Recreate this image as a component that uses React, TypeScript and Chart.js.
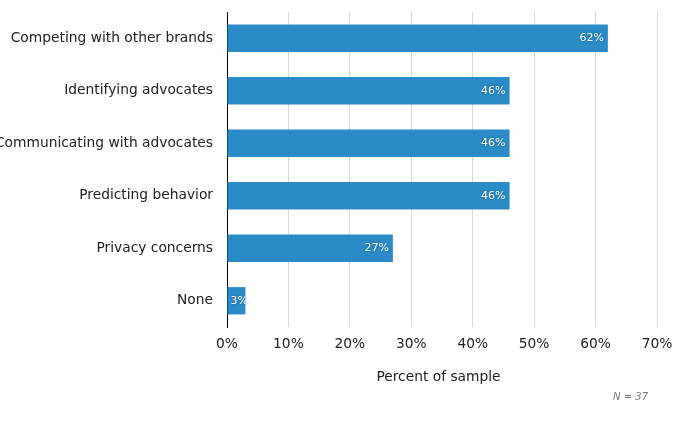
import React, { useEffect, useRef } from "react";
import { Chart, registerables } from "chart.js";

Chart.register(...registerables);

const categories = [
  "Competing with other brands",
  "Identifying advocates",
  "Communicating with advocates",
  "Predicting behavior",
  "Privacy concerns",
  "None",
];
const values = [62, 46, 46, 46, 27, 3];
const xTicks = [0, 10, 20, 30, 40, 50, 60, 70];
const xTitle = "Percent of sample";
const note = "N = 37";

const FONT = "'DejaVu Sans', Verdana, sans-serif";
const FS = 13.8;

const labelPlugin = {
  id: "barLabels",
  afterDatasetsDraw(chart: any) {
    const ctx = chart.ctx;
    const meta = chart.getDatasetMeta(0);
    ctx.save();
    ctx.font = `11px ${FONT}`;
    ctx.textBaseline = "middle";
    ctx.textAlign = "left";
    ctx.fillStyle = "#ffffff";
    ctx.shadowColor = "rgba(0,0,0,0.35)";
    ctx.shadowBlur = 3;
    meta.data.forEach((bar: any, i: number) => {
      const text = values[i] + "%";
      const w = ctx.measureText(text).width;
      const x = Math.max(bar.x - 4 - w, bar.base + 3);
      ctx.fillText(text, x, bar.y);
    });
    ctx.restore();
    ctx.save();
    ctx.font = `${FS}px ${FONT}`;
    ctx.fillStyle = "#222";
    ctx.textAlign = "center";
    ctx.textBaseline = "middle";
    ctx.fillText(xTitle, 438.5, 377);
    ctx.font = `italic 10px ${FONT}`;
    ctx.fillStyle = "#777777";
    ctx.textAlign = "right";
    ctx.fillText(note, 648, 397);
    ctx.restore();
  },
};

export default function App() {
  const ref = useRef<HTMLCanvasElement | null>(null);
  useEffect(() => {
    document.body.style.margin = "0";
    const chart = new Chart(ref.current as HTMLCanvasElement, {
      type: "bar",
      data: {
        labels: categories,
        datasets: [
          {
            data: values,
            backgroundColor: "#2a8bc7",
            categoryPercentage: 1,
            barPercentage: 0.52,
          },
        ],
      },
      options: {
        indexAxis: "y",
        animation: false,
        responsive: false,
        maintainAspectRatio: false,
        devicePixelRatio: 1,
        layout: { padding: { top: 12, right: 0, bottom: 37, left: 0 } },
        plugins: {
          legend: { display: false },
          tooltip: { enabled: false },
        },
        scales: {
          x: {
            min: 0,
            max: 70,
            afterBuildTicks: (scale: any) => {
              scale.ticks = xTicks.map((v) => ({ value: v }));
            },
            afterFit: (scale: any) => {
              scale.height = 58;
              scale.paddingLeft = 0;
              scale.paddingRight = 18;
            },
            ticks: {
              callback: (v: any) => v + "%",
              font: { family: FONT, size: FS },
              color: "#222",
              padding: 9,
              maxRotation: 0,
            },
            grid: { color: "#d9d9d9", drawTicks: false },
            border: { display: false },
            title: { display: false },
          },
          y: {
            afterFit: (scale: any) => {
              scale.width = 227;
              scale.paddingTop = 0;
              scale.paddingBottom = 0;
            },
            ticks: {
              font: { family: FONT, size: FS },
              color: "#222",
              padding: 14,
            },
            grid: { display: false, drawTicks: false },
            border: { display: true, color: "#000", width: 1 },
          },
        },
      },
      plugins: [labelPlugin],
    } as any);
    return () => chart.destroy();
  }, []);
  return (
    <div style={{ width: 675, height: 422 }}>
      <canvas ref={ref} width={675} height={422} style={{ width: 675, height: 422 }} />
    </div>
  );
}
